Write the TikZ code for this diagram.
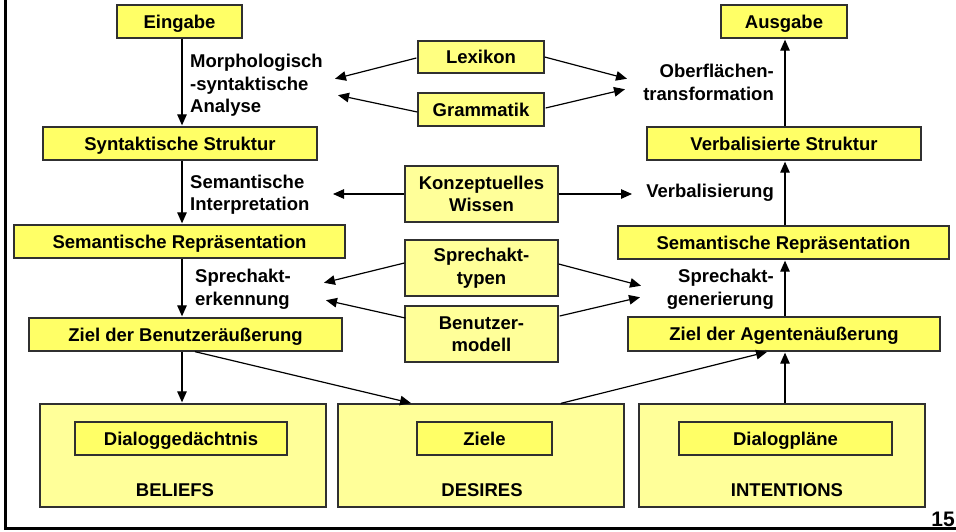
\documentclass[tikz,border=0pt]{standalone}
\usepackage{fontspec}
\setmainfont{Liberation Sans}
\usetikzlibrary{arrows.meta,calc}
\definecolor{boxfill}{HTML}{FFFF66}
\definecolor{palefill}{HTML}{FFFF99}
\definecolor{midfill}{HTML}{FFFF80}
\definecolor{edge}{HTML}{303030}
\begin{document}
\begin{tikzpicture}[x=1pt,y=-1pt,
  font=\fontsize{18.5}{22.5}\selectfont\bfseries,
  stepbox/.style={draw=edge,line width=1.3pt,fill=boxfill,inner sep=0pt,
    minimum width=#1,minimum height=33pt,text height=13.3pt,text depth=0pt},
  srcbox/.style={draw=edge,line width=1.3pt,fill=palefill,inner sep=0pt,
    minimum width=153pt,minimum height=56pt,align=center},
  bigbox/.style={draw=edge,line width=1.3pt,fill=palefill,inner sep=0pt,
    minimum width=286pt,minimum height=103pt},
  lbl/.style={inner sep=0pt},
  arr/.style={line width=1.2pt,-{Triangle[length=11pt,width=9.5pt]},shorten >=1pt}]
\useasboundingbox (0,0) rectangle (956,531);

% slide frame
\draw[line width=3pt] (5.5,0) -- (5.5,528.5);
\draw[line width=2.5pt] (4,528.5) -- (956,528.5);
\node[lbl,anchor=east,font=\fontsize{21}{24}\selectfont\bfseries] (page) at (955,519.5) {15};

% analysis column
\node[stepbox=125pt] (ein)  at (179.5,21.5) {Eingabe};
\node[stepbox=274pt] (syn)  at (180,143.5) {Syntaktische Struktur};
\node[stepbox=331pt] (semL) at (179.5,241.5) {Semantische Repräsentation};
\node[stepbox=313pt] (zielB) at (185.5,334.5) {Ziel der Benutzeräußerung};

% generation column
\node[stepbox=126pt] (aus)  at (784,21.5) {Ausgabe};
\node[stepbox=274pt] (verb) at (784,143.5) {Verbalisierte Struktur};
\node[stepbox=331pt] (semR) at (783.5,242.5) {Semantische Repräsentation};
\node[stepbox=312pt,minimum height=34pt] (zielA) at (784,334) {Ziel der Agentenäußerung};

% knowledge sources
\node[stepbox=126pt,fill=midfill,minimum height=32pt] (lex) at (481,57) {Lexikon};
\node[stepbox=126pt,fill=midfill] (gram) at (481,109.5) {Grammatik};
\node[srcbox] (konz) at (481.5,194) {Konzeptuelles\\Wissen};
\node[srcbox] (typ)  at (481.5,268) {Sprechakt-\\typen};
\node[srcbox] (bmod) at (481.5,334) {Benutzer-\\modell};

% BDI stores
\node[bigbox] (bel) at (183,455.5) {};
\node[bigbox] (des) at (481,455.5) {};
\node[bigbox] (int) at (782,455.5) {};
\node[stepbox=212pt] (dia)   at (181,438.5) {Dialoggedächtnis};
\node[stepbox=135pt] (ziele) at (484.5,438.5) {Ziele};
\node[stepbox=213pt] (dplan) at (785.5,438.5) {Dialogpläne};
\node[lbl] (belT) at (175,490) {BELIEFS};
\node[lbl] (desT) at (482,490) {DESIRES};
\node[lbl] (intT) at (787,490) {INTENTIONS};

% process labels
\node[lbl,anchor=west,align=left] (morph) at (190,85.5) {Morphologisch\\-syntaktische\\Analyse};
\node[lbl,anchor=west,align=left] (sint) at (190,194.5) {Semantische\\Interpretation};
\node[lbl,anchor=west,align=left] (serk) at (195,289.5) {Sprechakt-\\erkennung};
\node[lbl,anchor=east,align=right] (oberf) at (774,82.5) {Oberflächen-\\transformation};
\node[lbl,anchor=east] (verbl) at (774,193) {Verbalisierung};
\node[lbl,anchor=east,align=right] (sgen) at (774,289.5) {Sprechakt-\\generierung};

% arrow targets next to the process labels
\coordinate (tLexL) at (334,79);
\coordinate (tGramL) at (337,95);
\coordinate (tLexR) at (628,79);
\coordinate (tGramR) at (626,89);
\coordinate (tKonzL) at (332,194);
\coordinate (tKonzR) at (633,194);
\coordinate (tTypL) at (323,283);
\coordinate (tBmodL) at (325,300);
\coordinate (tTypR) at (642,286);
\coordinate (tBmodR) at (641,297);

% analysis flow
\draw[arr] ($(ein.south)+(2.5,0)$) -- ($(syn.north)+(2,0)$);
\draw[arr] ($(syn.south)+(2,0)$) -- ($(semL.north)+(2.5,0)$);
\draw[arr] ($(semL.south)+(2.5,0)$) -- ($(zielB.north)+(-3.5,0)$);
\draw[arr] ($(zielB.south)+(-3.5,0)$) -- ($(bel.north)+(-1,0)$);
\draw[arr] ($(zielB.south)+(9.5,0)$) -- ($(des.north)+(-69,0)$);

% generation flow
\draw[arr] ($(des.north)+(80,0)$) -- ($(zielA.south)+(-16,0)$);
\draw[arr] ($(int.north)+(3,0)$) -- ($(zielA.south)+(1,0)$);
\draw[arr] ($(zielA.north)+(1,0)$) -- ($(semR.south)+(1.5,0)$);
\draw[arr] ($(semR.north)+(1.5,0)$) -- ($(verb.south)+(1,0)$);
\draw[arr] ($(verb.north)+(1,0)$) -- ($(aus.south)+(1,0)$);

% knowledge sources feeding both directions
\draw[arr] ($(lex.west)+(-1,1)$) -- (tLexL);
\draw[arr] ($(gram.west)+(0,2.5)$) -- (tGramL);
\draw[arr] (lex.east) -- (tLexR);
\draw[arr] ($(gram.east)+(1,-1.5)$) -- (tGramR);
\draw[arr] (konz.west) -- (tKonzL);
\draw[arr] (konz.east) -- (tKonzR);
\draw[arr] ($(typ.west)+(0,-5)$) -- (tTypL);
\draw[arr] ($(bmod.west)+(1,-16)$) -- (tBmodL);
\draw[arr] ($(typ.east)+(0,-4)$) -- (tTypR);
\draw[arr] ($(bmod.east)+(1,-18)$) -- (tBmodR);
\end{tikzpicture}
\end{document}
